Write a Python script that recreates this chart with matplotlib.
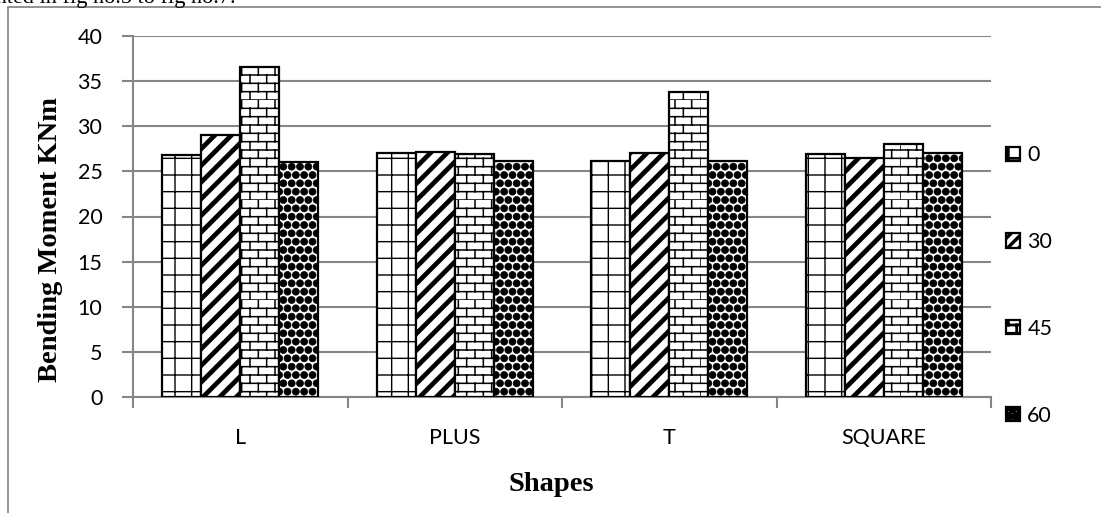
import warnings
import numpy as np
import matplotlib
matplotlib.use("Agg")
import matplotlib.pyplot as plt
import matplotlib.hatch as mhatch
from matplotlib.path import Path
from matplotlib.patches import Rectangle

warnings.filterwarnings("ignore")

# ---------------- data ----------------
categories = ["L", "PLUS", "T", "SQUARE"]
series_names = ["0", "30", "45", "60"]
vals_0 = [26.8, 27.0, 26.1, 26.9]
vals_30 = [29.0, 27.1, 27.0, 26.5]
vals_45 = [36.6, 26.9, 33.8, 28.0]
vals_60 = [26.0, 26.1, 26.1, 27.0]
y_ticks = [0, 5, 10, 15, 20, 25, 30, 35, 40]


# ---------------- custom hatches ----------------
class BrickHatch(mhatch.HatchPatternBase):
    def __init__(self, hatch, density):
        n = hatch.count('b')
        self.rows = n * density * 2
        self.bricks = n * density
        self.num_vertices = 2 * self.rows + 2 * self.rows * self.bricks

    def set_vertices_and_codes(self, vertices, codes):
        R, B = self.rows, self.bricks
        segs = []
        for i in range(R):
            y = i / R
            segs.append(((0.0, y), (1.0, y)))
        for i in range(R):
            y0, y1 = i / R, (i + 1) / R
            off = 0.5 / B if i % 2 else 0.0
            for j in range(B):
                xx = j / B + off
                segs.append(((xx, y0), (xx, y1)))
        arr = np.array(segs, dtype=float)
        vertices[0::2] = arr[:, 0, :]
        vertices[1::2] = arr[:, 1, :]
        codes[0::2] = Path.MOVETO
        codes[1::2] = Path.LINETO


class BigDots(mhatch.Circles):
    size = 0.42
    filled = True

    def __init__(self, hatch, density):
        self.num_rows = hatch.count('d') * density
        super().__init__(hatch, density)


mhatch._hatch_types.append(BrickHatch)
mhatch._hatch_types.append(BigDots)

# ---------------- figure ----------------
plt.rcParams['font.family'] = ['Lato', 'DejaVu Sans']
fig = plt.figure(figsize=(11.01, 5.13), dpi=100)
ax = fig.add_axes([133 / 1101, 1 - 397 / 513, (991 - 133) / 1101, (397 - 36) / 513])

x = np.arange(len(categories))
w = 0.182
all_vals = [vals_0, vals_30, vals_45, vals_60]
hatches = ['+', '//', 'b', 'dd']
hatch_lws = [1.0, 3.4, 1.1, 0.5]
handles = []
for k, (vals, h, hlw) in enumerate(zip(all_vals, hatches, hatch_lws)):
    with plt.rc_context({'hatch.linewidth': hlw, 'hatch.color': 'black'}):
        bars = ax.bar(x + (k - 1.5) * w, vals, width=w, facecolor='white',
                      edgecolor='black', linewidth=1.6, hatch=h,
                      label=series_names[k], zorder=3)
        for b in bars:
            if hasattr(b, 'set_hatch_linewidth'):
                b.set_hatch_linewidth(hlw)
    handles.append(bars)

grid_c = '#868686'
ax.set_xlim(-0.5, len(categories) - 0.5)
ax.set_ylim(0, 40)
ax.set_yticks(y_ticks)
ax.set_yticklabels([str(v) for v in y_ticks], fontsize=15.5)
ax.set_xticks(x)
ax.set_xticklabels(categories, fontsize=15.5)
ax.set_xticks(np.arange(len(categories) + 1) - 0.5, minor=True)
ax.tick_params(axis='x', which='major', length=0, pad=22)
ax.tick_params(axis='x', which='minor', length=8, width=1.5, color=grid_c)
ax.tick_params(axis='y', which='major', length=8, width=1.5, color=grid_c, pad=14)
ax.yaxis.grid(True, color=grid_c, linewidth=1.5, zorder=0)
ax.set_axisbelow(True)
for s in ['top', 'right']:
    ax.spines[s].set_visible(False)
for s in ['left', 'bottom']:
    ax.spines[s].set_color(grid_c)
    ax.spines[s].set_linewidth(1.5)

ax.set_ylabel("Bending Moment KNm", family='Liberation Serif', fontweight='bold', fontsize=20.5)
ax.yaxis.set_label_coords(-0.0816, 0.435)
ax.set_xlabel("Shapes", family='Liberation Serif', fontweight='bold', fontsize=20.5)
ax.xaxis.set_label_coords(0.487, -0.208)

with plt.rc_context({'hatch.linewidth': 2.0}):
    leg = fig.legend(handles=handles, labels=series_names, loc='center left',
                     bbox_to_anchor=(995 / 1101, 1 - 285.5 / 513), frameon=False,
                     fontsize=15.5, handlelength=0.65, handleheight=0.65,
                     handletextpad=0.35, labelspacing=3.1, borderpad=0)
lh = getattr(leg, 'legend_handles', None) or getattr(leg, 'legendHandles', [])
if len(lh) > 1:
    lh[1].set_hatch('///')
    if hasattr(lh[1], 'set_hatch_linewidth'):
        lh[1].set_hatch_linewidth(2.5)

# outer chart frame (cropped)
fig.add_artist(Rectangle((8 / 1101, -0.1), 1.2, 1.1 - 7 / 513, transform=fig.transFigure,
                         fill=False, edgecolor='#8a8a8a', linewidth=1.3))

# cropped running text from the page above
fig.text(236 / 1101, 1 - 3 / 513, "presented in fig no.5 to fig no.7.", ha='right',
         va='baseline', family='Liberation Serif', fontsize=16)

fig.savefig("out.png", dpi=100)
